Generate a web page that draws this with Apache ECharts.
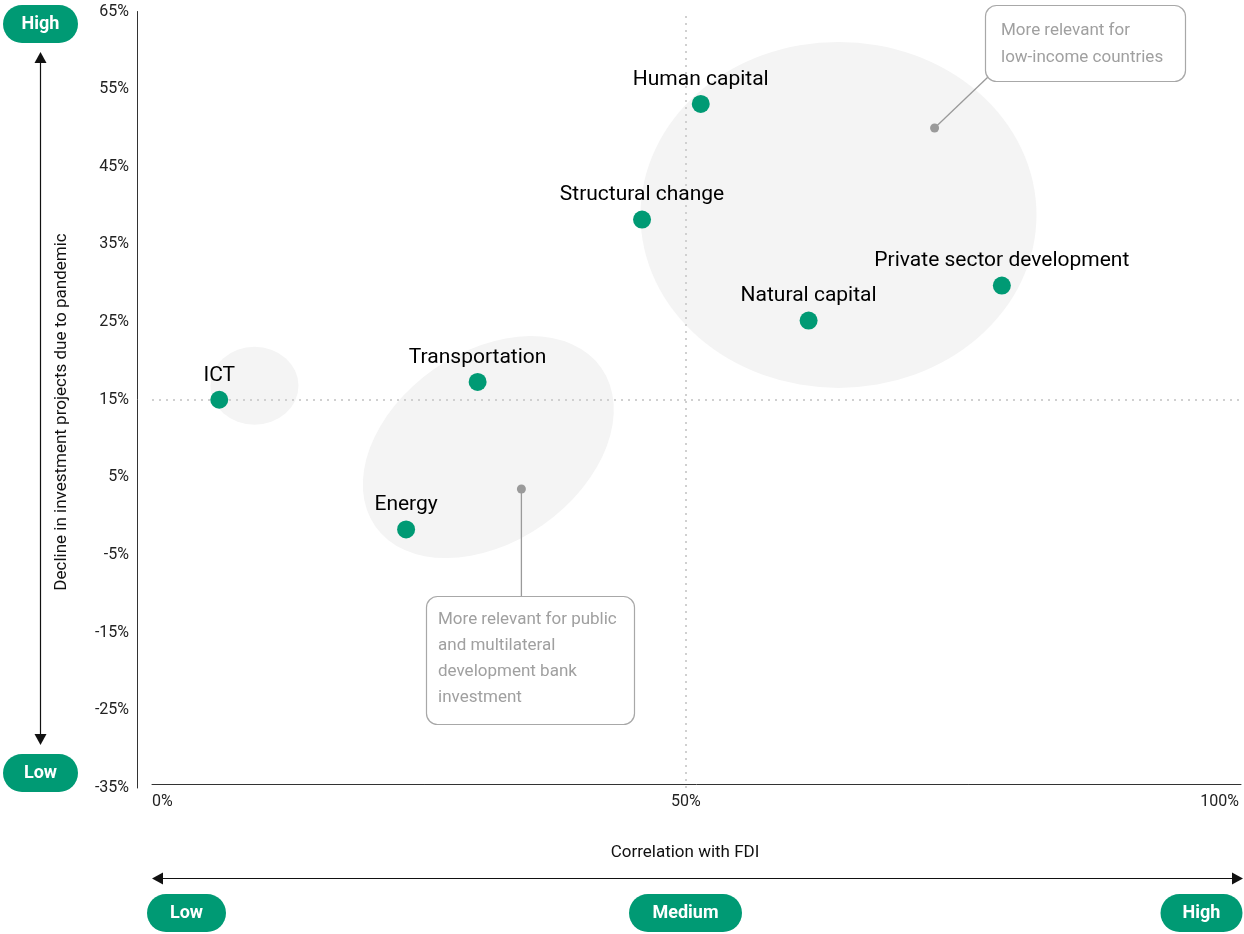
<!DOCTYPE html>
<html><head><meta charset="utf-8">
<script src="https://cdn.jsdelivr.net/npm/echarts@6/dist/echarts.min.js"></script>
<style>html,body{margin:0;padding:0;background:#fff}#c{width:1244px;height:934px}</style>
</head><body><div id="c"></div>
<script>
// ---- data ----
const categories = ['ICT', 'Transportation', 'Energy', 'Structural change', 'Human capital', 'Natural capital', 'Private sector development'];
const fdiCorrelation = [6.3, 30.5, 23.8, 45.9, 51.4, 61.5, 79.6];       // % (x)
const investmentDecline = [15, 17.3, -1.7, 38.2, 53.1, 25.2, 29.7];    // % (y)
const xTickValues = [0, 50, 100];
const yMin = -35, yMax = 65, yStep = 10;
const referenceX = 50, referenceY = 15;
const clusterX = [9.6, 31.5, 64.3];
const clusterY = [16.8, 8.9, 38.8];
const calloutX = [73.3, 34.6];
const calloutY = [50.0, 3.5];
const calloutTexts = ['More relevant for\nlow-income countries', 'More relevant for public\nand multilateral\ndevelopment bank\ninvestment'];
const yAxisTitle = 'Decline in investment projects due to pandemic';
const xAxisTitle = 'Correlation with FDI';
const yScaleLabels = ['High', 'Low'];
const xScaleLabels = ['Low', 'Medium', 'High'];

// ---- styling ----
const GREEN = '#009a74';
const FONT = 'Roboto, "Liberation Sans", sans-serif';
const blobShapes = [ {a: 44, b: 39, rot: 0}, {a: 138, b: 95, rot: 35}, {a: 198, b: 173, rot: 0} ];

const chart = echarts.init(document.getElementById('c'), null, {renderer: 'canvas'});

const option = {
  animation: false,
  backgroundColor: '#fff',
  textStyle: {fontFamily: FONT},
  grid: {left: 152, right: 0, top: 11.5, bottom: 146, containLabel: false},
  xAxis: {
    type: 'value', min: 0, max: 102, interval: 50, offset: -4,
    axisLine: {show: true, onZero: false, lineStyle: {color: '#333', width: 1}},
    axisTick: {show: false}, splitLine: {show: false},
    axisLabel: {
      margin: 10, fontSize: 16, color: '#222', fontFamily: FONT,
      alignMinLabel: 'left',
      formatter: v => xTickValues.indexOf(v) >= 0 ? v + '%' : ''
    }
  },
  yAxis: {
    type: 'value', min: yMin, max: yMax, interval: yStep, offset: 15,
    axisLine: {show: true, onZero: false, lineStyle: {color: '#333', width: 1}},
    axisTick: {show: false}, splitLine: {show: false},
    axisLabel: {margin: 8, fontSize: 16, color: '#222', fontFamily: FONT, formatter: v => v + '%'}
  },
  series: [
    {
      type: 'custom', z: 1, silent: true,
      data: clusterX.map((x, i) => [x, clusterY[i]]),
      renderItem(params, api) {
        const p = api.coord([api.value(0), api.value(1)]);
        const s = blobShapes[params.dataIndex];
        return {
          type: 'circle', x: p[0], y: p[1],
          rotation: s.rot * Math.PI / 180, scaleX: s.a / s.b,
          shape: {cx: 0, cy: 0, r: s.b},
          style: {fill: '#f4f4f4'}
        };
      }
    },
    {
      type: 'scatter', z: 5, symbolSize: 18,
      itemStyle: {color: GREEN, opacity: 1},
      data: categories.map((c, i) => ({name: c, value: [fdiCorrelation[i], investmentDecline[i]]})),
      label: {show: true, position: 'top', distance: 5, formatter: '{b}', fontSize: 21, color: '#000', fontFamily: FONT},
      markLine: {
        silent: true, symbol: 'none', label: {show: false},
        lineStyle: {color: '#d0d0d0', width: 2, type: [2, 5]},
        data: [{xAxis: referenceX}, {yAxis: referenceY}]
      }
    },
    {
      type: 'scatter', z: 4, symbolSize: 9, silent: true,
      itemStyle: {color: '#9a9a9a', opacity: 1},
      data: calloutX.map((x, i) => [x, calloutY[i]])
    }
  ]
};
chart.setOption(option);

const a1 = chart.convertToPixel({gridIndex: 0}, [calloutX[0], calloutY[0]]);
const a2 = chart.convertToPixel({gridIndex: 0}, [calloutX[1], calloutY[1]]);

function pill(cx, cy, w, text) {
  return {
    type: 'group', x: cx - w / 2, y: cy - 19, children: [
      {type: 'rect', shape: {x: 0, y: 0, width: w, height: 38, r: 19}, style: {fill: GREEN}},
      {type: 'text', x: w / 2, y: 19, style: {text: text, fill: '#fff', font: 'bold 18px ' + FONT, textAlign: 'center', textVerticalAlign: 'middle'}}
    ]
  };
}
const lineStyle = {stroke: '#111', lineWidth: 1.2};
const graphic = [
  // callout 1
  {type: 'line', z: 3, shape: {x1: a1[0], y1: a1[1], x2: 988, y2: 77}, style: {stroke: '#9a9a9a', lineWidth: 1.3}},
  {type: 'rect', z: 4, shape: {x: 985.5, y: 5.5, width: 200, height: 76, r: 11}, style: {fill: '#fff', stroke: '#a8a8a8', lineWidth: 1.2}},
  {type: 'text', z: 5, x: 1001, y: 17, style: {text: calloutTexts[0], font: '17px ' + FONT, fill: '#a0a0a0', lineHeight: 27, textVerticalAlign: 'top'}},
  // callout 2
  {type: 'line', z: 3, shape: {x1: a2[0], y1: a2[1], x2: a2[0], y2: 596.5}, style: {stroke: '#9a9a9a', lineWidth: 1.3}},
  {type: 'rect', z: 4, shape: {x: 426.5, y: 596.5, width: 208, height: 128, r: 11}, style: {fill: '#fff', stroke: '#a8a8a8', lineWidth: 1.2}},
  {type: 'text', z: 5, x: 438, y: 607, style: {text: calloutTexts[1], font: '17px ' + FONT, fill: '#a0a0a0', lineHeight: 26, textVerticalAlign: 'top'}},
  // axis titles
  {type: 'text', x: 62, y: 412, rotation: Math.PI / 2, style: {text: yAxisTitle, font: '17px ' + FONT, fill: '#111', textAlign: 'center', textVerticalAlign: 'middle'}},
  {type: 'text', x: 685, y: 853, style: {text: xAxisTitle, font: '17px ' + FONT, fill: '#111', textAlign: 'center', textVerticalAlign: 'middle'}},
  // vertical arrow
  {type: 'line', shape: {x1: 40.5, y1: 60, x2: 40.5, y2: 737}, style: lineStyle},
  {type: 'polygon', shape: {points: [[40.5, 52], [34.5, 63], [46.5, 63]]}, style: {fill: '#111'}},
  {type: 'polygon', shape: {points: [[40.5, 745], [34.5, 734], [46.5, 734]]}, style: {fill: '#111'}},
  // horizontal arrow
  {type: 'line', shape: {x1: 160, y1: 878.5, x2: 1235, y2: 878.5}, style: lineStyle},
  {type: 'polygon', shape: {points: [[152, 878.5], [163, 872.5], [163, 884.5]]}, style: {fill: '#111'}},
  {type: 'polygon', shape: {points: [[1243, 878.5], [1232, 872.5], [1232, 884.5]]}, style: {fill: '#111'}},
  // pills
  pill(40.5, 24, 75, yScaleLabels[0]),
  pill(40.5, 773, 75, yScaleLabels[1]),
  pill(186.5, 913, 79, xScaleLabels[0]),
  pill(685.5, 913, 113, xScaleLabels[1]),
  pill(1201.5, 913, 82, xScaleLabels[2])
];
chart.setOption({graphic: graphic});
</script>
</body></html>
